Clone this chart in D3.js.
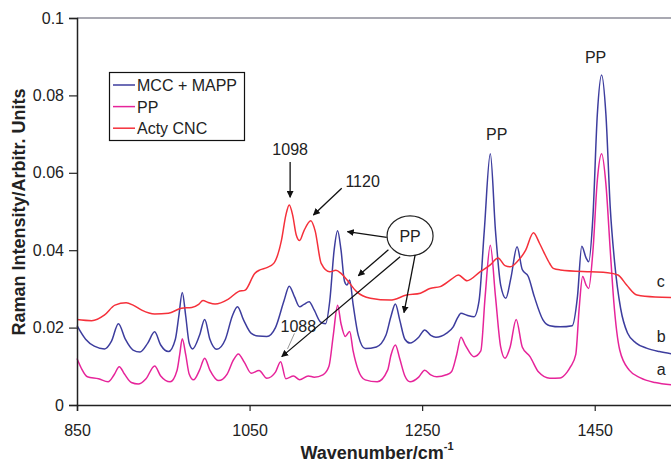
<!DOCTYPE html>
<html>
  <head>
    <meta charset="utf-8">
    <title>Raman spectra</title>
    <script src="https://d3js.org/d3.v7.min.js"></script>
    <style>
      body { margin: 0; background: #fff; }
      text { font-family: Arial, "Liberation Sans", sans-serif; fill: #222; }
    </style>
  </head>
  <body>
    <svg width="671" height="462"></svg>

    <script>
      // ---- data ----
      const seriesNames = ["MCC + MAPP", "PP", "Acty CNC"];
      const curveTags = ["b", "a", "c"];

      // b : MCC + MAPP
      const waveB = [850,860,870,882,890,898,906,915,923,932,940,947,956,964,968,972,976,980,984,992,998,1004,1012,1022,1030,1036,1043,1052,1060,1070,1080,1090,1096,1102,1108,1113,1119,1125,1132,1138,1143,1148,1152,1156,1160,1163,1166,1170,1176,1184,1197,1208,1214,1219,1224,1230,1236,1246,1253,1260,1266,1278,1286,1291,1295,1302,1310,1316,1322,1329,1335,1341,1347,1353,1360,1366,1373,1380,1390,1398,1410,1424,1430,1435,1440,1443,1448,1453,1458,1463,1468,1473,1480,1488,1498,1510,1525,1540];
      const mccMapp = [0.0205,0.017,0.0152,0.0145,0.0165,0.021,0.017,0.0142,0.0137,0.016,0.0189,0.0155,0.0138,0.017,0.023,0.0291,0.023,0.016,0.0145,0.018,0.0221,0.017,0.0144,0.017,0.023,0.0254,0.022,0.0185,0.0178,0.0177,0.020,0.027,0.0307,0.028,0.0254,0.026,0.0267,0.0245,0.0215,0.021,0.027,0.040,0.045,0.040,0.032,0.031,0.0323,0.026,0.018,0.0146,0.015,0.018,0.023,0.0261,0.022,0.017,0.016,0.0175,0.0194,0.018,0.0175,0.0185,0.0202,0.0225,0.0237,0.0232,0.0228,0.027,0.045,0.0649,0.045,0.031,0.0276,0.033,0.0409,0.035,0.0332,0.028,0.022,0.0205,0.0202,0.0205,0.028,0.041,0.038,0.037,0.049,0.075,0.0853,0.075,0.051,0.037,0.025,0.0186,0.016,0.0147,0.0138,0.0132];

      // a : PP
      const waveA = [850,855,862,875,886,893,899,905,913,921,930,940,947,958,966,969,972,976,980,985,992,998,1004,1014,1024,1031,1037,1044,1052,1061,1070,1080,1086,1092,1101,1108,1118,1125,1135,1142,1147,1152,1156,1161,1166,1170,1176,1184,1198,1210,1214,1219,1224,1230,1236,1246,1253,1260,1267,1278,1284,1290,1295,1300,1310,1318,1323,1329,1335,1341,1346,1352,1359,1366,1375,1385,1398,1410,1418,1422,1428,1432,1436,1440,1443,1448,1453,1458,1463,1468,1472,1479,1490,1503,1520,1540];
      const pp = [0.012,0.0095,0.0073,0.0068,0.006,0.0078,0.0099,0.008,0.0058,0.0054,0.0068,0.0101,0.0075,0.006,0.009,0.013,0.0171,0.013,0.008,0.0065,0.009,0.0121,0.009,0.0063,0.008,0.0115,0.0132,0.011,0.0082,0.0089,0.0069,0.0085,0.0112,0.0068,0.0075,0.0065,0.0075,0.0072,0.0078,0.010,0.018,0.0258,0.021,0.0177,0.019,0.014,0.009,0.0065,0.006,0.009,0.013,0.0155,0.012,0.0075,0.006,0.0072,0.009,0.0078,0.0073,0.0078,0.0086,0.013,0.0175,0.0155,0.0125,0.014,0.028,0.0413,0.028,0.015,0.0121,0.015,0.0221,0.015,0.0125,0.0085,0.0069,0.007,0.0085,0.0099,0.013,0.025,0.0332,0.031,0.0301,0.040,0.058,0.0649,0.057,0.040,0.027,0.0142,0.009,0.007,0.0058,0.0052];

      // c : Acty CNC
      const waveC = [850,867,882,894,907,915,925,940,956,971,983,991,996,1002,1010,1025,1037,1045,1056,1062,1070,1078,1087,1092,1096,1100,1104,1108,1113,1121,1126,1133,1143,1150,1156,1163,1174,1190,1213,1232,1248,1259,1271,1284,1292,1302,1317,1329,1338,1346,1352,1360,1370,1379,1386,1391,1398,1402,1410,1445,1465,1477,1487,1499,1520,1540];
      const actyCnc = [0.0221,0.0218,0.0233,0.0258,0.0264,0.0258,0.0245,0.0235,0.0237,0.025,0.0252,0.026,0.027,0.0265,0.0261,0.0273,0.0293,0.0297,0.034,0.0349,0.0355,0.0366,0.0426,0.049,0.0517,0.049,0.044,0.0425,0.045,0.0476,0.045,0.0366,0.0344,0.0348,0.034,0.0323,0.0293,0.0276,0.0271,0.0284,0.0289,0.0301,0.0306,0.0325,0.0336,0.0321,0.0344,0.0362,0.038,0.036,0.0357,0.037,0.040,0.0445,0.0418,0.0395,0.0365,0.0353,0.0349,0.0344,0.0342,0.0336,0.031,0.0284,0.0279,0.0278];

      const xTicks = [850, 1050, 1250, 1450];
      const xTickLabels = ["850", "1050", "1250", "1450"];
      const yTicks = [0, 0.02, 0.04, 0.06, 0.08, 0.1];
      const yTickLabels = ["0", "0.02", "0.04", "0.06", "0.08", "0.1"];

      const colors = ["#3d3d9e", "#e6249a", "#f5303a"];

      // ---- layout ----
      const svg = d3.select("svg");
      const plotL = 77, plotT = 18, plotR = 681, plotB = 405;

      const x = d3.scaleLinear().domain([850, 1550]).range([plotL, plotR]);
      const y = d3.scaleLinear().domain([0, 0.1]).range([plotB, plotT]);

      svg.append("defs").append("marker")
        .attr("id", "arrow")
        .attr("viewBox", "0 0 10 10")
        .attr("refX", 9).attr("refY", 5)
        .attr("markerWidth", 7).attr("markerHeight", 7)
        .attr("markerUnits", "userSpaceOnUse")
        .attr("orient", "auto")
        .append("path").attr("d", "M0,0 L10,5 L0,10 z").attr("fill", "#111");

      // frame top
      svg.append("line")
        .attr("x1", plotL).attr("x2", plotR).attr("y1", plotT).attr("y2", plotT)
        .attr("stroke", "#556").attr("stroke-width", 1.2);

      // spectra
      const line = d3.line()
        .x(d => x(d[0])).y(d => y(d[1]))
        .curve(d3.curveMonotoneX);

      const spectra = [
        d3.zip(waveB, mccMapp),
        d3.zip(waveA, pp),
        d3.zip(waveC, actyCnc)
      ];

      svg.selectAll("path.spec")
        .data(spectra)
        .enter()
        .append("path")
        .attr("class", "spec")
        .attr("d", line)
        .attr("fill", "none")
        .attr("stroke", (d, i) => colors[i])
        .attr("stroke-width", 1.5);

      // axes
      const xAxis = svg.append("g")
        .attr("transform", `translate(0,${plotB})`)
        .call(d3.axisBottom(x).tickValues(xTicks).tickSize(6).tickPadding(14)
          .tickFormat((d, i) => xTickLabels[i]));
      const yAxis = svg.append("g")
        .attr("transform", `translate(${plotL},0)`)
        .call(d3.axisLeft(y).tickValues(yTicks).tickSize(8)
          .tickFormat((d, i) => yTickLabels[i]).tickPadding(5));

      [xAxis, yAxis].forEach(g => {
        g.select(".domain").attr("stroke", "#222").attr("stroke-width", 1.5);
        g.selectAll(".tick line").attr("stroke", "#222").attr("stroke-width", 1.2);
        g.selectAll(".tick text")
          .attr("font-size", 16)
          .attr("font-family", "Arial, 'Liberation Sans', sans-serif")
          .attr("fill", "#222");
      });

      // axis titles
      const xt = svg.append("text")
        .attr("x", 377).attr("y", 459)
        .attr("text-anchor", "middle")
        .attr("font-size", 18).attr("font-weight", "bold");
      xt.append("tspan").text("Wavenumber/cm");
      xt.append("tspan").text("-1").attr("font-size", 11).attr("dy", -9);

      svg.append("text")
        .attr("transform", "translate(25,212) rotate(-90)")
        .attr("text-anchor", "middle")
        .attr("font-size", 18).attr("font-weight", "bold")
        .text("Raman Intensity/Arbitr. Units");

      // legend
      const leg = svg.append("g");
      leg.append("rect")
        .attr("x", 109.5).attr("y", 72.5).attr("width", 135).attr("height", 68)
        .attr("fill", "#fff").attr("stroke", "#111").attr("stroke-width", 1.2);
      seriesNames.forEach((name, i) => {
        const cy = 85 + i * 21.6;
        leg.append("line")
          .attr("x1", 113).attr("x2", 135).attr("y1", cy).attr("y2", cy)
          .attr("stroke", colors[i]).attr("stroke-width", 1.5);
        leg.append("text")
          .attr("x", 137).attr("y", cy + 6)
          .attr("font-size", 16)
          .text(name);
      });

      // curve tags
      const tagY = [0.0163, 0.0078, 0.0305];
      curveTags.forEach((t, i) => {
        svg.append("text")
          .attr("x", x(1522)).attr("y", y(tagY[i]))
          .attr("font-size", 16).text(t);
      });

      // annotations
      function label(txt, w, v, size) {
        svg.append("text")
          .attr("x", x(w)).attr("y", y(v))
          .attr("text-anchor", "middle")
          .attr("font-size", size)
          .text(txt);
      }
      function arrow(w1, v1, w2, v2) {
        svg.append("line")
          .attr("x1", x(w1)).attr("y1", y(v1))
          .attr("x2", x(w2)).attr("y2", y(v2))
          .attr("stroke", "#111").attr("stroke-width", 1.3)
          .attr("marker-end", "url(#arrow)");
      }

      label("PP", 1451, 0.0884, 16);
      label("PP", 1336.5, 0.0685, 16);
      label("1098", 1097, 0.0646, 16);
      label("1120", 1181, 0.0563, 16);
      label("1088", 1106.5, 0.0189, 16);

      arrow(1097, 0.0628, 1097, 0.0537);
      arrow(1156.8, 0.056, 1124, 0.0491);

      svg.append("ellipse")
        .attr("cx", x(1236)).attr("cy", y(0.0437))
        .attr("rx", 23).attr("ry", 20)
        .attr("fill", "#fff").attr("stroke", "#222").attr("stroke-width", 1.2);
      svg.append("text")
        .attr("x", x(1236)).attr("y", y(0.0437) + 6)
        .attr("text-anchor", "middle").attr("font-size", 16).text("PP");

      arrow(1209, 0.0433, 1163.4, 0.0448);
      arrow(1210.9, 0.0401, 1176, 0.0334);
      arrow(1224.5, 0.0383, 1087.3, 0.0125);
      arrow(1241.9, 0.0388, 1229, 0.0239);

      // faint leader from 1088 label
      svg.append("line")
        .attr("x1", x(1102)).attr("y1", y(0.0185))
        .attr("x2", x(1094)).attr("y2", y(0.0145))
        .attr("stroke", "#999").attr("stroke-width", 1);
    </script>
  </body>
</html>
